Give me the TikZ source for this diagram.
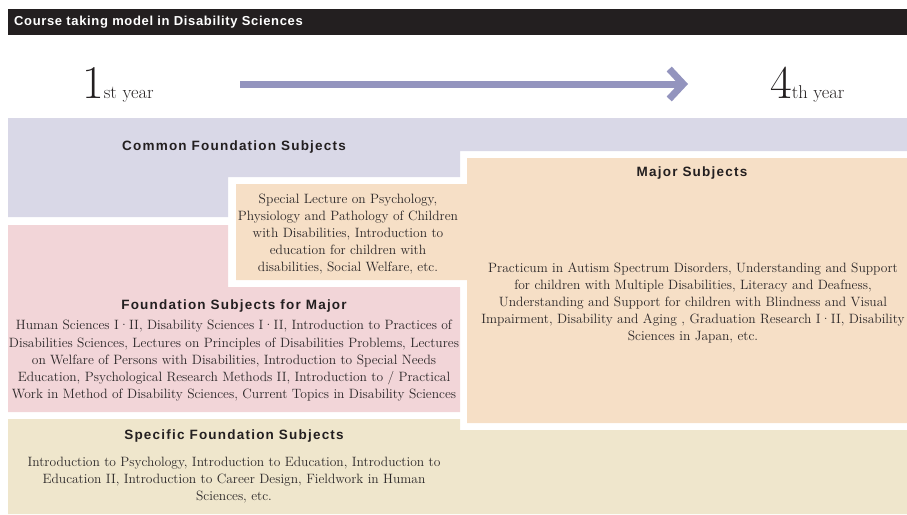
\documentclass[tikz,border=0pt]{standalone}
\usepackage{fontspec}
\setsansfont{Liberation Sans}
\newfontfamily\headfont[LetterSpace=9]{Liberation Sans}
\newfontfamily\titlefont[LetterSpace=5]{Liberation Sans}
\usepackage{tikz}
\usetikzlibrary{positioning, arrows.meta}
\definecolor{barc}{HTML}{231F20}
\definecolor{arrowc}{HTML}{9394BE}
\definecolor{lavc}{HTML}{D9D8E7}
\definecolor{peachc}{HTML}{F6DFC6}
\definecolor{pinkc}{HTML}{F2D5D8}
\definecolor{beigec}{HTML}{EFE6CC}
\definecolor{textc}{HTML}{2A2627}
\tikzstyle{heading} = [inner sep=0pt, text=barc, font=\headfont\bfseries\fontsize{13.5}{15}\selectfont]
\tikzstyle{body} = [inner sep=0pt, align=center, text=textc, font=\fontsize{13.5}{17.2}\selectfont]
\tikzstyle{year} = [inner sep=0pt, anchor=base west, text=barc]
\tikzstyle{arrow} = [line width=7pt, arrowc, -{Straight Barb[length=14pt, width=30pt]}]
\newcommand{\bignum}[1]{{\fontsize{47}{47}\selectfont #1}}
\newcommand{\yearword}[1]{{\fontsize{18.5}{18.5}\selectfont #1}}

\begin{document}
\begin{tikzpicture}[x=1pt, y=-1pt]
\useasboundingbox (0,0) rectangle (907,514);
\clip (0,0) rectangle (907,514);

% blocks
\fill[barc] (8,9) rectangle (907,35);
\fill[lavc] (8,118) -- (907,118) -- (907,151) -- (460,151) -- (460,177) -- (228,177) -- (228,217) -- (8,217) -- cycle;
\fill[peachc] (236,184) -- (467,184) -- (467,158) -- (907,158) -- (907,423) -- (467,423) -- (467,280) -- (236,280) -- cycle;
\fill[pinkc] (8,225) -- (228,225) -- (228,287) -- (460,287) -- (460,412) -- (8,412) -- cycle;
\fill[beigec] (8,419) -- (460,419) -- (460,430) -- (907,430) -- (907,514) -- (8,514) -- cycle;

\node (title) [anchor=west, inner sep=0pt, text=white, font=\titlefont\bfseries\fontsize{13}{14}\selectfont] at (14,22) {Course taking model in Disability Sciences};

% years
\node (first) [year] at (82,98) {\bignum{1}\yearword{st year}};
\node (fourth) [year] at (770,98) {\bignum{4}\yearword{th year}};
\coordinate (arrS) at (240,84);
\coordinate (arrE) at (688,84);
\draw [arrow] (arrS) -- (arrE);

% headings
\node (common) [heading] at (234,147) {Common Foundation Subjects};
\node (major) [heading] at (692,173) {Major Subjects};
\node (formajor) [heading] at (234,306) {Foundation Subjects for Major};
\node (specific) [heading] at (234,436) {Specific Foundation Subjects};

% subject lists
\node (special) [body] at (348,234) {Special Lecture on Psychology,\\ Physiology and Pathology of Children\\ with Disabilities, Introduction to\\ education for children with\\ disabilities, Social Welfare, etc.};
\node (majorlist) [body] at (693,303) {Practicum in Autism Spectrum Disorders, Understanding and Support\\ for children with Multiple Disabilities, Literacy and Deafness,\\ Understanding and Support for children with Blindness and Visual\\ Impairment, Disability and Aging , Graduation Research I·II, Disability\\ Sciences in Japan, etc.};
\node (formajorlist) [body] at (234,361) {Human Sciences I·II, Disability Sciences I·II, Introduction to Practices of\\ Disabilities Sciences, Lectures on Principles of Disabilities Problems, Lectures\\ on Welfare of Persons with Disabilities, Introduction to Special Needs\\ Education, Psychological Research Methods II, Introduction to / Practical\\ Work in Method of Disability Sciences, Current Topics in Disability Sciences};
\node (specificlist) [body] at (234,480) {Introduction to Psychology, Introduction to Education, Introduction to\\ Education II, Introduction to Career Design, Fieldwork in Human\\ Sciences, etc.};

\end{tikzpicture}
\end{document}
